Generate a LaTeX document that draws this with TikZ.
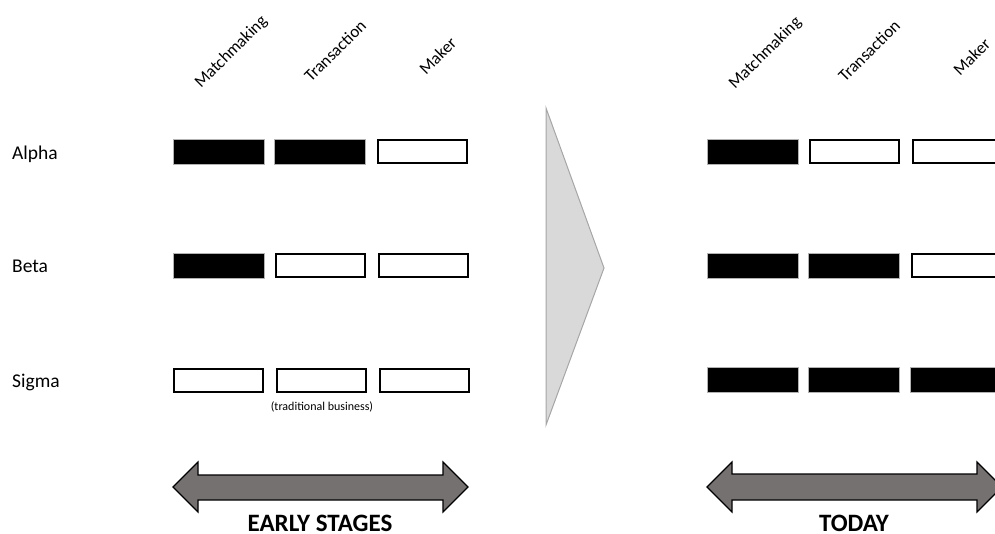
\documentclass[tikz,border=0pt]{standalone}
\usepackage{fontspec}
\setmainfont{Carlito}
\usepackage{tikz}
\usetikzlibrary{positioning}
\definecolor{arrowgray}{HTML}{767171}
\definecolor{trifill}{HTML}{D9D9D9}
\definecolor{triline}{HTML}{A6A6A6}
\tikzset{
  onbox/.style={draw=gray!60, fill=black, line width=0.8pt, minimum width=91pt, minimum height=25pt, inner sep=0pt},
  offbox/.style={draw=black, fill=white, line width=2pt, minimum width=89pt, minimum height=23pt, inner sep=0pt},
  rowlabel/.style={font=\fontsize{19.5}{22}\selectfont, anchor=base west, inner sep=0pt},
  colhead/.style={font=\fontsize{17}{19}\selectfont, rotate=45, anchor=base west, inner sep=0pt},
  stagelabel/.style={font=\fontsize{25}{28}\selectfont\bfseries, anchor=base, inner sep=0pt},
  bigarrow/.style={draw=black, fill=arrowgray, line width=1.2pt, line join=miter}
}

\begin{document}
\begin{tikzpicture}[x=1pt, y=-1pt]
 \useasboundingbox (0,0) rectangle (995,534);
 \clip (0,0) rectangle (995,534);
 % row labels
 \node[rowlabel] (alpha) at (12,160) {Alpha};
 \node[rowlabel] (beta) at (12,273) {Beta};
 \node[rowlabel] (sigma) at (12,387) {Sigma};
 % early stages
 \begin{scope}
  \node[colhead] (lm) at (201,89) {Matchmaking};
  \node[colhead] (lt) at (311,83) {Transaction};
  \node[colhead] (lk) at (426,76) {Maker};
  \node[onbox] (la1) at (218.5,152) {};
  \node[onbox, right=10pt of la1] (la2) {};
  \node[offbox, right=11pt of la2] (la3) {};
  \node[onbox] (lb1) at (218.5,266) {};
  \node[offbox, right=11pt of lb1] (lb2) {};
  \node[offbox, right=12pt of lb2] (lb3) {};
  \node[offbox] (ls1) at (218.5,380) {};
  \node[offbox, right=12pt of ls1] (ls2) {};
  \node[offbox, right=12pt of ls2] (ls3) {};
  \node[font=\fontsize{12}{14}\selectfont] (trad) at (322,407) {(traditional business)};
  \draw[bigarrow] (173,487) -- (198,462) -- (198,475) -- (443,475) -- (443,462) -- (468,487)
   -- (443,512) -- (443,500) -- (198,500) -- (198,512) -- cycle;
  \node[stagelabel] (early) at (320,531) {EARLY STAGES};
 \end{scope}
 % change
 \draw[draw=triline, fill=trifill, line width=1pt] (546,108) -- (604,268) -- (546,425) -- cycle;
 % today
 \begin{scope}[xshift=534pt]
  \node[colhead] (rm) at (201,90) {Matchmaking};
  \node[colhead] (rt) at (311,83) {Transaction};
  \node[colhead] (rk) at (426,77) {Maker};
  \node[onbox] (ra1) at (218.5,152) {};
  \node[offbox, right=11pt of ra1] (ra2) {};
  \node[offbox, right=12pt of ra2] (ra3) {};
  \node[onbox] (rb1) at (218.5,266) {};
  \node[onbox, right=10pt of rb1] (rb2) {};
  \node[offbox, right=11pt of rb2] (rb3) {};
  \node[onbox] (rs1) at (218.5,380) {};
  \node[onbox, right=10pt of rs1] (rs2) {};
  \node[onbox, right=10pt of rs2] (rs3) {};
  \draw[bigarrow] (173,487) -- (198,462) -- (198,474) -- (443,474) -- (443,462) -- (468,487)
   -- (443,512) -- (443,500) -- (198,500) -- (198,512) -- cycle;
  \node[stagelabel] (today) at (320,531) {TODAY};
 \end{scope}
\end{tikzpicture}
\end{document}
